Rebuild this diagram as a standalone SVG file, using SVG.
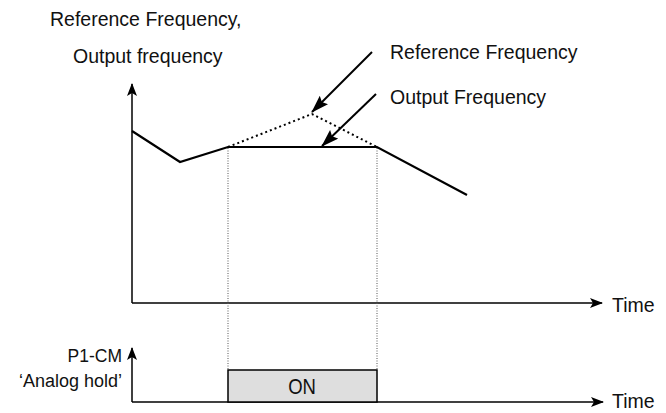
<svg xmlns="http://www.w3.org/2000/svg" width="666" height="413" viewBox="0 0 666 413">
<defs>
<style>
text{font-family:"Liberation Sans",Arial,sans-serif;font-size:19.5px;fill:#111}
.ax{stroke:#000;stroke-width:1.5;fill:none}
.curve{stroke:#000;stroke-width:2.2;fill:none;stroke-linejoin:miter}
.ref{stroke:#000;stroke-width:2;fill:none;stroke-dasharray:2,3}
.guide{stroke:#555;stroke-width:1;fill:none;stroke-dasharray:1,1.5}
.ptr{stroke:#000;stroke-width:2;fill:none}
</style>
<marker id="ah" viewBox="0 0 13 10" refX="12" refY="5" markerWidth="13" markerHeight="10" markerUnits="userSpaceOnUse" orient="auto">
<path d="M0,0 L13,5 L0,10 L3,5 Z" fill="#000"/>
</marker>
<marker id="ptrh" viewBox="0 0 18 12" refX="17" refY="6" markerWidth="18" markerHeight="12" markerUnits="userSpaceOnUse" orient="auto">
<path d="M0,0 L18,6 L0,12 L3,6 Z" fill="#000"/>
</marker>
</defs>
<g id="connectors">
<line id="freq-y-axis" class="ax" x1="132" y1="303" x2="132" y2="84" marker-end="url(#ah)"/>
<line id="freq-time-axis" class="ax" x1="132" y1="303" x2="602" y2="303" marker-end="url(#ah)"/>
<line id="hold-y-axis" class="ax" x1="132" y1="402" x2="132" y2="348" marker-end="url(#ah)"/>
<line id="hold-time-axis" class="ax" x1="132" y1="402" x2="603" y2="402" marker-end="url(#ah)"/>
<line class="guide" x1="228" y1="148" x2="228" y2="370"/>
<line class="guide" x1="377" y1="148" x2="377" y2="370"/>
<polyline id="reference-curve" class="ref" points="228,147 312,114 377,147"/>
<polyline id="output-curve" class="curve" points="132,131 180,162 228,147 377,147 467,195"/>
<line id="ref-pointer" class="ptr" x1="372" y1="52" x2="312" y2="112" marker-end="url(#ptrh)"/>
<line id="out-pointer" class="ptr" x1="376" y1="94" x2="322" y2="146" marker-end="url(#ptrh)"/>
</g>
<g id="y-label">
<text x="50" y="26">Reference Frequency,</text>
<text x="73" y="63">Output frequency</text>
</g>
<g id="ref-label"><text x="390" y="59">Reference Frequency</text></g>
<g id="out-label"><text x="390" y="104">Output Frequency</text></g>
<g id="time-label-top"><text x="612" y="312">Time</text></g>
<g id="time-label-bottom"><text x="612" y="408">Time</text></g>
<g id="hold-label">
<text x="122" y="362" text-anchor="end" style="font-size:17.5px">P1-CM</text>
<text x="122" y="387" text-anchor="end" style="font-size:18px">‘Analog hold’</text>
</g>
<g id="on-box">
<rect x="228" y="370" width="149" height="32" fill="#dedede" stroke="#000" stroke-width="1.5"/>
<text x="302" y="0" text-anchor="middle" transform="translate(0,394) scale(1,1.22)" style="font-size:18.5px">ON</text>
</g>
</svg>
